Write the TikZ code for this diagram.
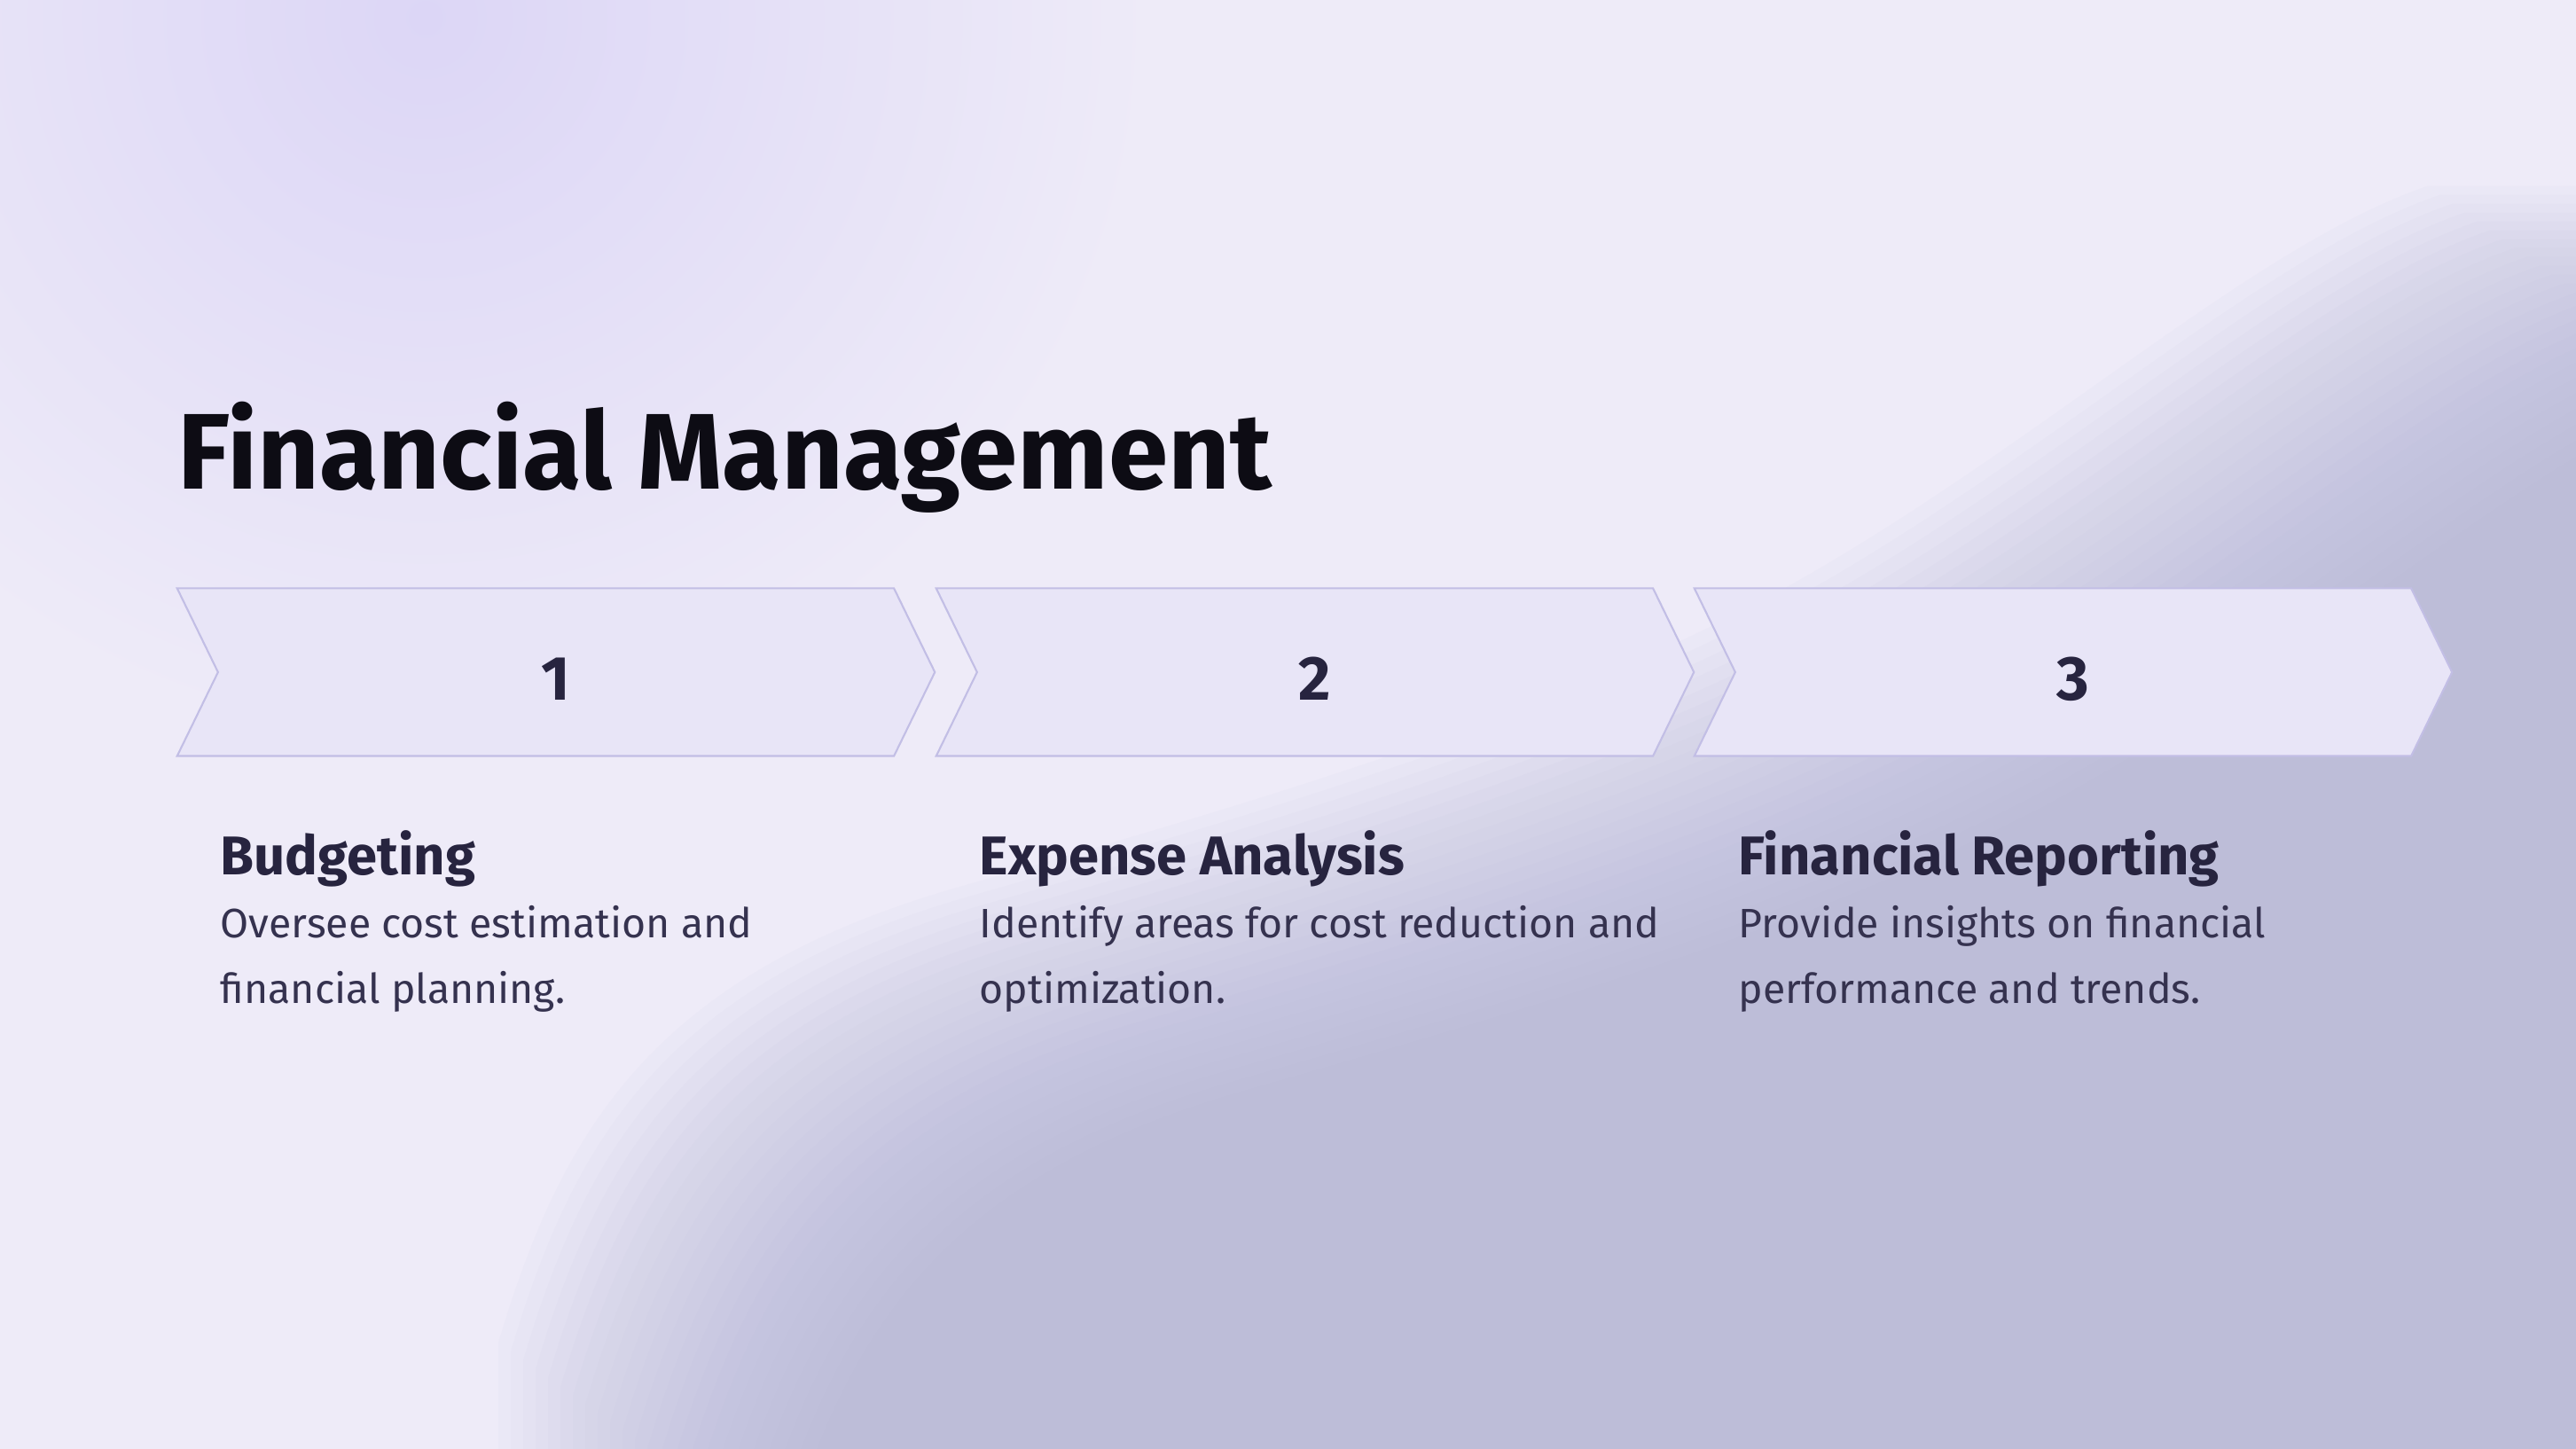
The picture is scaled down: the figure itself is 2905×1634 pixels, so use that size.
\documentclass[tikz,border=0pt]{standalone}
\usepackage{fontspec}
\setmainfont{Fira Sans}
\usepackage{tikz}
\usetikzlibrary{positioning, shapes.symbols}

\definecolor{bgmain}{HTML}{EEEBF8}
\definecolor{blobtl}{HTML}{DCD6F6}
\definecolor{shadebr}{HTML}{B2B2D5}
\definecolor{chevfill}{HTML}{E8E5F7}
\definecolor{chevline}{HTML}{C2BEE5}
\definecolor{inkdark}{HTML}{27243F}
\definecolor{inkbody}{HTML}{35324F}
\definecolor{inktitle}{HTML}{0D0C14}

\newcommand{\stepnum}[1]{\raisebox{-8.9pt}[0pt][0pt]{#1}}

\begin{document}
\begin{tikzpicture}[
    x=0.01cm, y=-0.01cm,
    chevron/.style={signal, signal to=east, signal from=west,
      signal pointer angle=128, draw=chevline, fill=chevfill,
      line width=0.6pt, minimum width=8.54cm, minimum height=1.89cm,
      inner sep=0pt, text=inkdark, font=\fontsize{20}{24}\selectfont\bfseries},
    headtxt/.style={anchor=base west, inner sep=0pt, text=inkdark,
      font=\fontsize{17.5}{22}\selectfont\bfseries},
    bodytxt/.style={anchor=base west, inner sep=0pt, text=inkbody, align=left,
      font=\fontsize{13.2}{20.8}\selectfont},
    titletxt/.style={anchor=base west, inner sep=0pt, text=inktitle,
      font=\fontsize{34.5}{40}\selectfont\bfseries}
  ]
  % background
  \useasboundingbox (0,0) rectangle (2905,1634);
  \clip (0,0) rectangle (2905,1634);
  \fill[bgmain] (0,0) rectangle (2905,1634);
  \shade[inner color=blobtl, outer color=bgmain] (480,20) circle (820);
  \foreach \k in {-12,...,11}
    \fill[shadebr, opacity=0.05, shift={(\k*14,\k*10)}]
      (730,1634) .. controls (800,1400) and (900,1220) .. (1250,1120)
      .. controls (1600,1020) and (1900,930) .. (2150,800)
      .. controls (2450,640) and (2700,400) .. (2905,330)
      -- (3200,330) -- (3200,1900) -- (730,1900) -- cycle;

  % title
  \node[titletxt] (title) at (200,552) {Financial Management};

  % steps
  \node[chevron] (step1) at (627,758) {\stepnum{1}};
  \node[chevron] (step2) at (1483,758) {\stepnum{2}};
  \node[chevron] (step3) at (2338,758) {\stepnum{3}};

  \node[headtxt] (head1) at (248,986) {Budgeting};
  \node[headtxt] (head2) at (1104,986) {Expense Analysis};
  \node[headtxt] (head3) at (1960,986) {Financial Reporting};

  % two lines each, anchored on the last baseline
  \node[bodytxt] (body1) at (248,1131) {Oversee cost estimation and\\financial planning.};
  \node[bodytxt] (body2) at (1104,1131) {Identify areas for cost reduction and\\optimization.};
  \node[bodytxt] (body3) at (1960,1131) {Provide insights on financial\\performance and trends.};
\end{tikzpicture}
\end{document}
